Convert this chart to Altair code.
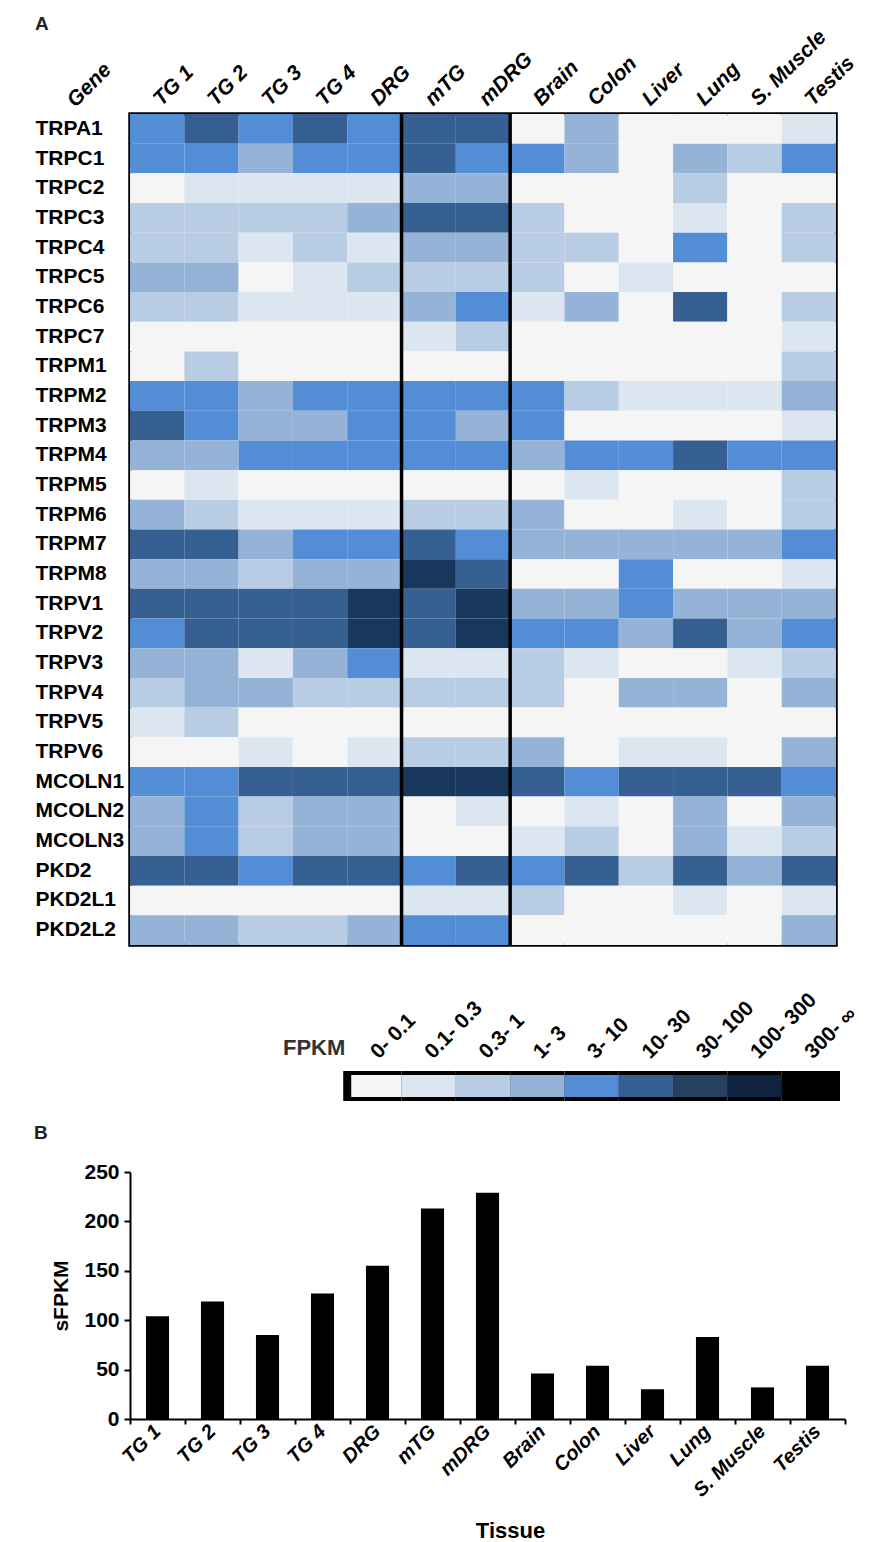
import altair as alt
import pandas as pd

tissues = ["TG 1", "TG 2", "TG 3", "TG 4", "DRG", "mTG", "mDRG",
           "Brain", "Colon", "Liver", "Lung", "S. Muscle", "Testis"]

genes = ["TRPA1", "TRPC1", "TRPC2", "TRPC3", "TRPC4", "TRPC5", "TRPC6", "TRPC7",
         "TRPM1", "TRPM2", "TRPM3", "TRPM4", "TRPM5", "TRPM6", "TRPM7", "TRPM8",
         "TRPV1", "TRPV2", "TRPV3", "TRPV4", "TRPV5", "TRPV6",
         "MCOLN1", "MCOLN2", "MCOLN3", "PKD2", "PKD2L1", "PKD2L2"]

# FPKM class per gene and tissue (0 = 0-0.1, 1 = 0.1-0.3, ... 8 = 300-inf)
level_rows = [
    [4, 5, 4, 5, 4, 5, 5, 0, 3, 0, 0, 0, 1],  # TRPA1
    [4, 4, 3, 4, 4, 5, 4, 4, 3, 0, 3, 2, 4],  # TRPC1
    [0, 1, 1, 1, 1, 3, 3, 0, 0, 0, 2, 0, 0],  # TRPC2
    [2, 2, 2, 2, 3, 5, 5, 2, 0, 0, 1, 0, 2],  # TRPC3
    [2, 2, 1, 2, 1, 3, 3, 2, 2, 0, 4, 0, 2],  # TRPC4
    [3, 3, 0, 1, 2, 2, 2, 2, 0, 1, 0, 0, 0],  # TRPC5
    [2, 2, 1, 1, 1, 3, 4, 1, 3, 0, 5, 0, 2],  # TRPC6
    [0, 0, 0, 0, 0, 1, 2, 0, 0, 0, 0, 0, 1],  # TRPC7
    [0, 2, 0, 0, 0, 0, 0, 0, 0, 0, 0, 0, 2],  # TRPM1
    [4, 4, 3, 4, 4, 4, 4, 4, 2, 1, 1, 1, 3],  # TRPM2
    [5, 4, 3, 3, 4, 4, 3, 4, 0, 0, 0, 0, 1],  # TRPM3
    [3, 3, 4, 4, 4, 4, 4, 3, 4, 4, 5, 4, 4],  # TRPM4
    [0, 1, 0, 0, 0, 0, 0, 0, 1, 0, 0, 0, 2],  # TRPM5
    [3, 2, 1, 1, 1, 2, 2, 3, 0, 0, 1, 0, 2],  # TRPM6
    [5, 5, 3, 4, 4, 5, 4, 3, 3, 3, 3, 3, 4],  # TRPM7
    [3, 3, 2, 3, 3, 6, 5, 0, 0, 4, 0, 0, 1],  # TRPM8
    [5, 5, 5, 5, 6, 5, 6, 3, 3, 4, 3, 3, 3],  # TRPV1
    [4, 5, 5, 5, 6, 5, 6, 4, 4, 3, 5, 3, 4],  # TRPV2
    [3, 3, 1, 3, 4, 1, 1, 2, 1, 0, 0, 1, 2],  # TRPV3
    [2, 3, 3, 2, 2, 2, 2, 2, 0, 3, 3, 0, 3],  # TRPV4
    [1, 2, 0, 0, 0, 0, 0, 0, 0, 0, 0, 0, 0],  # TRPV5
    [0, 0, 1, 0, 1, 2, 2, 3, 0, 1, 1, 0, 3],  # TRPV6
    [4, 4, 5, 5, 5, 6, 6, 5, 4, 5, 5, 5, 4],  # MCOLN1
    [3, 4, 2, 3, 3, 0, 1, 0, 1, 0, 3, 0, 3],  # MCOLN2
    [3, 4, 2, 3, 3, 0, 0, 1, 2, 0, 3, 1, 2],  # MCOLN3
    [5, 5, 4, 5, 5, 4, 5, 4, 5, 2, 5, 3, 5],  # PKD2
    [0, 0, 0, 0, 0, 1, 1, 2, 0, 0, 1, 0, 1],  # PKD2L1
    [3, 3, 2, 2, 3, 4, 4, 0, 0, 0, 0, 0, 3],  # PKD2L2
]

level_labels = ["0- 0.1", "0.1- 0.3", "0.3- 1", "1- 3", "3- 10",
                "10- 30", "30- 100", "100- 300", "300- \u221e"]
heat_colors = ["#f5f5f5", "#dce6f1", "#b8cce4", "#95b3d7", "#538dd5",
               "#366092", "#17375d", "#0f243e", "#000000"]
legend_colors = ["#f5f5f5", "#dce6f1", "#b8cce4", "#95b3d7", "#538dd5",
                 "#366092", "#254061", "#10233e", "#000000"]

sfpkm = [104, 119, 85, 127, 155, 213, 229, 46, 54, 30, 83, 32, 54]

FONT = "Liberation Sans, Arial, sans-serif"
NARROW = "Liberation Sans Narrow, Arial Narrow, Liberation Sans, Arial, sans-serif"

HEAT_W = 706
HEAT_H = 831

# ---------------- Panel A: heatmap ----------------
heat_df = pd.DataFrame(
    [{"gene": g, "tissue": t, "level": lv}
     for g, row in zip(genes, level_rows) for t, lv in zip(tissues, row)]
)

hx_axis = alt.Axis(orient="top", title=None, labelAngle=315,
                   labelAlign="left", labelBaseline="middle",
                   labelPadding=12, ticks=False, domain=False,
                   labelFont=FONT, labelFontSize=21,
                   labelFontWeight="bold", labelFontStyle="italic",
                   labelColor="black")
hx_scale = alt.Scale(paddingInner=0, paddingOuter=0)

cells = alt.Chart(heat_df).mark_rect().encode(
    x=alt.X("tissue:N", sort=tissues, scale=hx_scale, axis=hx_axis),
    y=alt.Y("gene:N", sort=genes,
            axis=alt.Axis(title=None, labelAlign="left", labelBaseline="middle",
                          labelPadding=95, ticks=False, domain=False,
                          labelFont=FONT, labelFontSize=21,
                          labelFontWeight="bold", labelColor="black")),
    color=alt.Color("level:O",
                    scale=alt.Scale(domain=list(range(9)), range=heat_colors),
                    legend=None),
)

sep_df = pd.DataFrame({"tissue": ["mTG", "Brain"]})
separators = alt.Chart(sep_df).mark_rule(color="black", strokeWidth=3.5).encode(
    x=alt.X("tissue:N", sort=tissues, bandPosition=0, scale=hx_scale,
            axis=hx_axis),
)

gene_head = alt.Chart(pd.DataFrame({"t": ["Gene"]})).mark_text(
    angle=315, align="left", baseline="middle", font=FONT, fontSize=21,
    fontWeight="bold", fontStyle="italic", color="black",
).encode(text="t:N", x=alt.value(-59), y=alt.value(-10))

# invisible spacer below the heatmap (keeps room above the colour key)
spacer = alt.Chart(pd.DataFrame({"t": [0]})).mark_rule(
    strokeOpacity=0, opacity=0).encode(
    x=alt.value(0), y=alt.value(HEAT_H), y2=alt.value(HEAT_H + 24))

heat = alt.layer(cells, separators, gene_head, spacer).properties(
    width=HEAT_W, height=HEAT_H,
    view=alt.ViewBackground(stroke="black", strokeWidth=3.5),
    title=alt.TitleParams("A", anchor="start", font=FONT, fontSize=19,
                          fontWeight="bold", color="#222", offset=-8),
)

# ---------------- Colour key ----------------
step = HEAT_W / len(tissues)
legend_df = pd.DataFrame({"range": level_labels})
lx_axis = alt.Axis(orient="top", title=None, labelAngle=315, labelAlign="left",
                   labelBaseline="middle", labelPadding=16, ticks=False,
                   domain=False, labelFont=FONT, labelFontSize=21,
                   labelFontWeight="bold", labelColor="black")
lscale = alt.Scale(range=[4 * step, HEAT_W], paddingInner=0, paddingOuter=0)

key_bg = alt.Chart(legend_df).mark_rect(color="black").encode(
    x=alt.X("range:N", sort=level_labels, scale=lscale, axis=lx_axis),
    y=alt.value(0), y2=alt.value(30),
)
key_cells = alt.Chart(legend_df).mark_rect().encode(
    x=alt.X("range:N", sort=level_labels, scale=lscale, axis=lx_axis),
    y=alt.value(4), y2=alt.value(26),
    color=alt.Color("range:N", sort=level_labels,
                    scale=alt.Scale(domain=level_labels, range=legend_colors),
                    legend=None),
)
key_left = alt.Chart(pd.DataFrame({"range": [level_labels[0]]})).mark_rule(
    color="black", strokeWidth=8).encode(
    x=alt.X("range:N", sort=level_labels, bandPosition=0, scale=lscale,
            axis=lx_axis),
    y=alt.value(0), y2=alt.value(30),
)
key_right = alt.Chart(pd.DataFrame({"range": [level_labels[-1]]})).mark_rule(
    color="black", strokeWidth=8).encode(
    x=alt.X("range:N", sort=level_labels, bandPosition=1, scale=lscale,
            axis=lx_axis),
    y=alt.value(0), y2=alt.value(30),
)
key_title = alt.Chart(pd.DataFrame({"t": ["FPKM"]})).mark_text(
    align="left", baseline="alphabetic", font=NARROW, fontSize=22,
    fontWeight="bold", color="#333333",
).encode(text="t:N", x=alt.value(153), y=alt.value(-16))

key = alt.layer(key_bg, key_cells, key_left, key_right, key_title).properties(
    width=HEAT_W, height=30,
    view=alt.ViewBackground(stroke="transparent"),
)

# ---------------- Panel B: bar chart ----------------
bar_df = pd.DataFrame({"tissue": tissues, "sfpkm": sfpkm})
bars = alt.Chart(bar_df).mark_bar(
    color="black", width=alt.RelativeBandSize(0.42)
).encode(
    x=alt.X("tissue:N", sort=tissues,
            scale=alt.Scale(paddingInner=0, paddingOuter=0),
            axis=alt.Axis(title="Tissue", labelAngle=315, labelAlign="right",
                          labelBaseline="middle", bandPosition=1, tickExtra=True,
                          ticks=True, tickSize=5,
                          tickWidth=2, tickColor="black", domainWidth=2,
                          domainColor="black", labelPadding=4,
                          labelFont=FONT, labelFontSize=20,
                          labelFontWeight="bold", labelFontStyle="italic",
                          labelColor="black", titleFont=NARROW,
                          titleFontSize=22, titleFontWeight="bold",
                          titleColor="black", titlePadding=20, titleX=380)),
    y=alt.Y("sfpkm:Q", scale=alt.Scale(domain=[0, 250], nice=False),
            axis=alt.Axis(title="sFPKM", values=[0, 50, 100, 150, 200, 250],
                          grid=False, tickSize=6, tickWidth=2,
                          tickColor="black", domainWidth=2, domainColor="black",
                          labelPadding=5, labelFont=NARROW, labelFontSize=21,
                          labelFontWeight="bold", labelColor="black",
                          titleFont=FONT, titleFontSize=21,
                          titleFontWeight="bold", titleColor="black",
                          titlePadding=12)),
).properties(
    width=715, height=247,
    view=alt.ViewBackground(stroke="transparent"),
    title=alt.TitleParams("B", anchor="start", font=FONT, fontSize=19,
                          fontWeight="bold", color="#222", offset=18, dx=-17),
)

chart = alt.vconcat(heat, key, bars, spacing=17).resolve_scale(
    x="independent", y="independent", color="independent"
).properties(
    padding={"left": 33, "top": 12, "right": 5, "bottom": 5},
    background="white",
).configure(font=FONT)

chart.save("out.html", embed_options={"renderer": "svg", "actions": False})
